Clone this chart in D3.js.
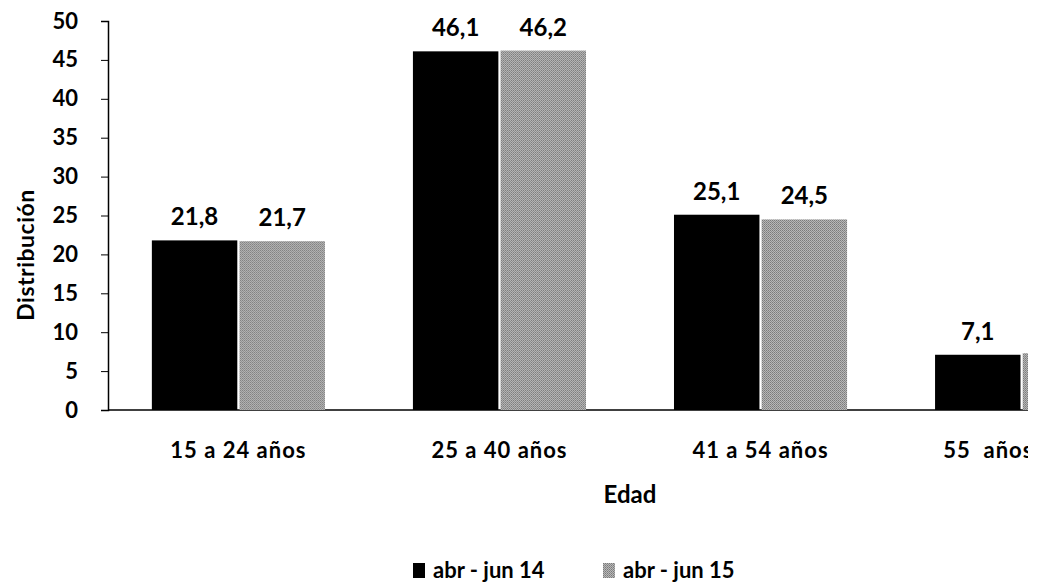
<!DOCTYPE html>
<html>
<head>
<meta charset="utf-8">
<script src="https://cdn.jsdelivr.net/npm/d3@7"></script>
<style>
  body { margin: 0; background: #fff; }
  text { font-family: Lato, "Open Sans", sans-serif; fill: #000; font-weight: bold; }
</style>
</head>
<body>
<svg id="chart" width="1037" height="587"></svg>
<script>
var categories = ['15 a 24 años', '25 a 40 años', '41 a 54 años', '55  años y más'];
var series = ['abr - jun 14', 'abr - jun 15'];
var values14 = [21.8, 46.1, 25.1, 7.1];
var values15 = [21.7, 46.2, 24.5, 7.3];
var yTicks = [0, 5, 10, 15, 20, 25, 30, 35, 40, 45, 50];

var svg = d3.select('#chart');
var colors = { 'abr - jun 14': '#000', 'abr - jun 15': 'url(#grain)' };
var clipX = 1028;

// grainy gray fill like the scanned original
var defs = svg.append('defs');
var pat = defs.append('pattern')
    .attr('id', 'grain')
    .attr('width', 2).attr('height', 2)
    .attr('patternUnits', 'userSpaceOnUse');
pat.append('rect').attr('width', 2).attr('height', 2).attr('fill', '#b8b8b8');
pat.append('rect').attr('width', 1).attr('height', 1).attr('fill', '#7a7a7a');
pat.append('rect').attr('x', 1).attr('y', 1).attr('width', 1).attr('height', 1).attr('fill', '#8c8c8c');

defs.append('clipPath').attr('id', 'cut')
    .append('rect').attr('x', 0).attr('y', 0).attr('width', clipX).attr('height', 587);

var y = d3.scaleLinear().domain([0, 50]).range([410, 21]);
var x0 = d3.scaleBand().domain(categories).range([108, 1152])
    .paddingInner(0.337).paddingOuter(0.168);
var x1 = d3.scaleBand().domain(series).range([0, x0.bandwidth()]).paddingInner(0.025);

var rows = categories.map((c, i) => ({ cat: c, vals: [values14[i], values15[i]] }));

var plot = svg.append('g').attr('clip-path', 'url(#cut)');

// y axis
var yAxis = svg.append('g')
    .attr('transform', 'translate(108,0)')
    .call(d3.axisLeft(y).tickValues(yTicks).tickSize(7).tickPadding(23));
yAxis.select('.domain').attr('stroke', '#000').attr('stroke-width', 1.5);
yAxis.selectAll('.tick line').attr('stroke', '#000');
yAxis.selectAll('.tick text')
    .style('font-size', '22px').style('font-weight', 'bold')
    .style('font-family', 'Lato, sans-serif').attr('fill', '#000');

// baseline
plot.append('line')
    .attr('x1', 108).attr('x2', 1152)
    .attr('y1', y(0)).attr('y2', y(0))
    .attr('stroke', '#000').attr('stroke-width', 1.5);

var groups = plot.selectAll('.grp')
    .data(rows)
    .enter().append('g')
    .classed('grp', true)
    .attr('transform', d => `translate(${x0(d.cat)},0)`);

groups.selectAll('rect')
    .data(d => d.vals.map((v, i) => ({ s: series[i], v: v })))
    .enter().append('rect')
    .attr('x', d => x1(d.s))
    .attr('y', d => y(d.v))
    .attr('width', x1.bandwidth())
    .attr('height', d => y(0) - y(d.v))
    .attr('fill', d => colors[d.s]);

// value labels (skip the ones that fall past the cropped edge)
groups.selectAll('.val')
    .data(d => d.vals.map((v, i) => ({ s: series[i], v: v, cx: x0(d.cat) + x1(series[i]) + x1.bandwidth() / 2 }))
                .filter(e => e.cx < clipX - 20))
    .enter().append('text')
    .classed('val', true)
    .attr('x', d => x1(d.s) + x1.bandwidth() / 2)
    .attr('y', d => y(d.v) - 15)
    .attr('text-anchor', 'middle')
    .style('font-size', '24px')
    .text(d => d3.format('.1f')(d.v).replace('.', ','));

groups.append('text')
    .attr('x', x0.bandwidth() / 2)
    .attr('y', 458)
    .attr('text-anchor', 'middle')
    .style('font-size', '22px')
    .style('letter-spacing', '1px')
    .style('white-space', 'pre')
    .text(d => d.cat);

// axis titles
svg.append('text')
    .attr('transform', 'translate(34,255) rotate(-90)')
    .attr('text-anchor', 'middle')
    .style('font-size', '23px')
    .style('letter-spacing', '0.5px')
    .text('Distribución');

svg.append('text')
    .attr('x', 630).attr('y', 503)
    .attr('text-anchor', 'middle')
    .style('font-size', '24px')
    .text('Edad');

// legend
var legX = [413, 603];
var leg = svg.selectAll('.leg')
    .data(series)
    .enter().append('g')
    .attr('transform', (d, i) => `translate(${legX[i]},563)`);
leg.append('rect').attr('width', 12).attr('height', 15).attr('fill', d => colors[d]);
leg.append('text')
    .attr('x', 20).attr('y', 15)
    .style('font-size', '22px')
    .text(d => d);
</script>
</body>
</html>
